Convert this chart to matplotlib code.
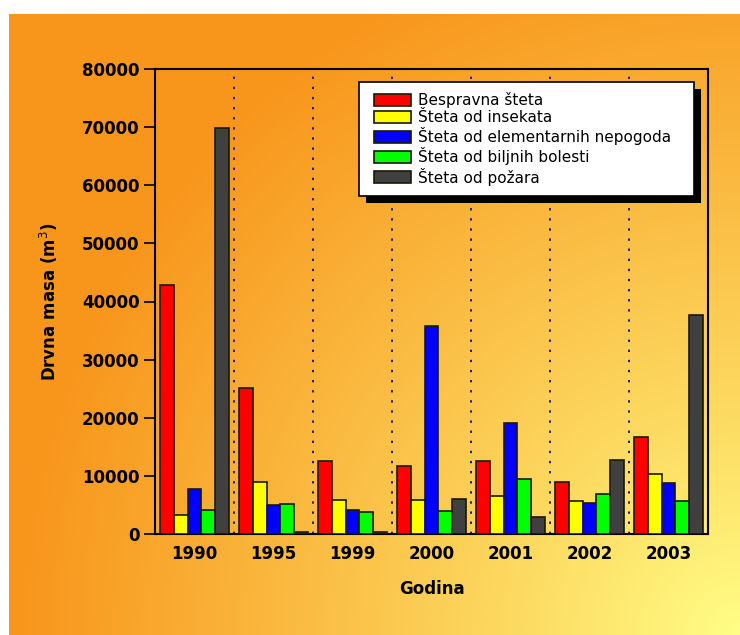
import numpy as np
import matplotlib.pyplot as plt
from matplotlib.patches import Rectangle

# podaci
godine = ['1990', '1995', '1999', '2000', '2001', '2002', '2003']
bespravna = [42800, 25100, 12600, 11700, 12600, 9000, 16700]
insekti = [3300, 9000, 5900, 5900, 6500, 5700, 10300]
nepogode = [7700, 5000, 4200, 35800, 19100, 5300, 8800]
bolesti = [4100, 5200, 3700, 3900, 9400, 6900, 5700]
pozar = [69800, 400, 400, 6000, 2900, 12700, 37700]

serije = [bespravna, insekti, nepogode, bolesti, pozar]
nazivi = ['Bespravna šteta', 'Šteta od insekata', 'Šteta od elementarnih nepogoda',
          'Šteta od biljnih bolesti', 'Šteta od požara']
boje = ['#FF0000', '#FFFF00', '#0000FF', '#00FF00', '#404040']

W, H = 740, 635
fig = plt.figure(figsize=(W / 100, H / 100), dpi=100)
fig.patch.set_facecolor('white')

# pozadina s gradijentom (narandžasta -> žuta u donjem desnom uglu)
bx0, by_top = 9, 14
bg = fig.add_axes([bx0 / W, 0, (W - bx0) / W, (H - by_top) / H])
bg.set_axis_off()
xs = np.linspace(bx0, W, 300)
ys = np.linspace(by_top, H, 260)
X, Y = np.meshgrid(xs, ys)
d = np.sqrt((X - W) ** 2 + (Y - H) ** 2)
t = np.clip(d / 720, 0, 1) ** 0.9
c0 = np.array([255, 255, 135]) / 255
c1 = np.array([248, 150, 28]) / 255
img = c0[None, None, :] * (1 - t[..., None]) + c1[None, None, :] * t[..., None]
bg.imshow(img, aspect='auto', extent=[0, 1, 0, 1], origin='upper')
bg.set_xlim(0, 1)
bg.set_ylim(0, 1)

ax = fig.add_axes([155 / W, 1 - 534 / H, (708 - 155) / W, (534 - 69) / H])
ax.patch.set_visible(False)

x = np.arange(len(godine))
bw = 0.177
for i, (vals, naziv, boja) in enumerate(zip(serije, nazivi, boje)):
    ax.bar(x + (i - 2) * bw, vals, width=bw, color=boja, edgecolor='#1a1a00',
           linewidth=1.2, label=naziv, zorder=3)

for k in range(len(godine) - 1):
    ax.axvline(k + 0.5, color='#1a1a90', linestyle=(0, (1.2, 4)), linewidth=1.4, zorder=1)

ax.set_xlim(-0.5, len(godine) - 0.5)
ax.set_ylim(0, 80000)
ax.set_yticks(np.arange(0, 80001, 10000))
ax.set_xticks(x)
ax.set_xticklabels(godine, fontsize=12, fontweight='bold')
ax.tick_params(axis='x', length=0, pad=8)
ax.tick_params(axis='y', direction='out', length=8, width=1.2, labelsize=12, pad=3)
for lab in ax.get_yticklabels():
    lab.set_fontweight('bold')
for s in ax.spines.values():
    s.set_linewidth(1.5)
    s.set_color('black')

ax.set_xlabel('Godina', fontsize=12, fontweight='bold', labelpad=12)
ax.set_ylabel('Drvna masa (m$^3$)', fontsize=12, fontweight='bold', labelpad=16)

# legenda bez okvira, okvir i sjena crtani posebno
leg = ax.legend(loc='upper left', bbox_to_anchor=(374 / W, 1 - 92 / H),
                bbox_transform=fig.transFigure, frameon=False,
                fontsize=11, handlelength=2.4, handleheight=0.8,
                handletextpad=0.45, labelspacing=0.14, borderpad=0, borderaxespad=0)
leg.set_zorder(6)

lx0, lx1, ly0, ly1 = 359, 694, 82, 196
sh = Rectangle((lx0 + 7, H - ly1 - 7), lx1 - lx0, ly1 - ly0, transform=None,
               facecolor='black', edgecolor='none', zorder=4)
fr = Rectangle((lx0, H - ly1), lx1 - lx0, ly1 - ly0, transform=None,
               facecolor='white', edgecolor='black', linewidth=1.2, zorder=5)
ax.add_artist(sh)
ax.add_artist(fr)

fig.savefig('out.png', dpi=100, facecolor=fig.get_facecolor())
